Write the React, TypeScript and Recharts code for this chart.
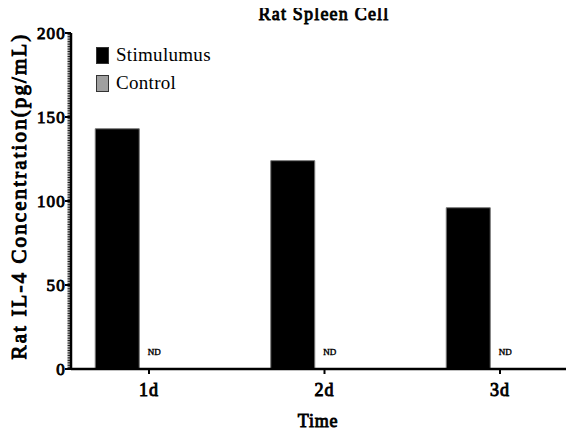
import { Bar, BarChart, LabelList, Legend, XAxis, YAxis } from "recharts";

const categories = ["1d", "2d", "3d"];
const seriesNames = ["Stimulumus", "Control"];
const stimulusValues = [143, 124, 96];
const controlValues = [0, 0, 0];
const controlNotes = ["ND", "ND", "ND"];
const yMajorTicks = [0, 50, 100, 150, 200];
const yMax = 200;

const data = categories.map((time, i) => ({
  time,
  stimulus: stimulusValues[i],
  control: controlValues[i],
  note: controlNotes[i],
}));

// minor ticks every unit, labels only on the major ones
const yTicks = Array.from({ length: yMax + 1 }, (_, i) => i);

const serif = "Liberation Serif";
// bold face isn't installed, so thicken the regular one with a stroke
const boldText = { fontFamily: serif, fill: "#000", stroke: "#000", strokeWidth: 0.9 };

function YTick(props: any) {
  const { x, y, payload } = props;
  const v = payload.value;
  if (!yMajorTicks.includes(v)) {
    return <line x1={x - 3.5} x2={x - 1} y1={y} y2={y} stroke="#000" strokeWidth={0.9} />;
  }
  return (
    <g>
      <line x1={x - 6} x2={x} y1={y} y2={y} stroke="#000" strokeWidth={2} />
      <text x={x - 5} y={y} dy={6} textAnchor="end" fontSize={17} letterSpacing={1.2} {...boldText}>
        {v}
      </text>
    </g>
  );
}

function XTick(props: any) {
  const { x, y, payload } = props;
  return (
    <g>
      <line x1={x} x2={x} y1={y} y2={y + 5} stroke="#000" strokeWidth={2} />
      <text x={x} y={y + 26.5} textAnchor="middle" fontSize={18} letterSpacing={1} {...boldText}>
        {payload.value}
      </text>
    </g>
  );
}

// ND sits on the baseline next to the stimulus bar of each group
function NoteLabel(props: any) {
  const { x, y, width, height, value } = props;
  return (
    <text
      x={x + width + 15}
      y={y + height - 14}
      textAnchor="middle"
      fontSize={9}
      fontFamily={serif}
      fill="#000"
      stroke="#000"
      strokeWidth={0.4}
    >
      {value}
    </text>
  );
}

function LegendContent(props: any) {
  const items = [...(props.payload || [])].sort(
    (a: any, b: any) => seriesNames.indexOf(a.value) - seriesNames.indexOf(b.value)
  );
  return (
    <div>
      {items.map((e: any) => (
        <div key={e.value} style={{ display: "flex", alignItems: "center", height: 28 }}>
          <span
            style={{
              display: "inline-block",
              width: 13,
              height: 17,
              background: e.color,
              border: "1px solid #333",
              boxSizing: "border-box",
              marginRight: 7,
            }}
          />
          <span style={{ fontFamily: serif, fontSize: 19, color: "#000", letterSpacing: 0.3 }}>{e.value}</span>
        </div>
      ))}
    </div>
  );
}

export default function App() {
  return (
    <div style={{ position: "relative", width: 566, height: 423, fontFamily: serif }}>
      <BarChart
        width={566}
        height={423}
        data={data}
        margin={{ top: 25, right: 1, bottom: 0, left: 0 }}
        barGap={20}
      >
        <XAxis
          dataKey="time"
          height={62}
          padding={{ left: -9.75, right: -14.75 }}
          axisLine={{ stroke: "#000", strokeWidth: 2.5 }}
          tickLine={false}
          tickSize={0}
          tickMargin={0}
          tick={<XTick />}
          interval={0}
          label={(p: any) => {
            const vb = p.viewBox;
            return (
              <text
                x={vb.x + vb.width / 2 - 4}
                y={419}
                textAnchor="middle"
                fontSize={18}
                letterSpacing={0.8}
                {...boldText}
              >
                Time
              </text>
            );
          }}
        />
        <YAxis
          width={63}
          domain={[0, yMax]}
          ticks={yTicks}
          interval={0}
          axisLine={{ stroke: "#000", strokeWidth: 2.5 }}
          tickLine={false}
          tickSize={0}
          tickMargin={0}
          tick={<YTick />}
          label={(p: any) => {
            const vb = p.viewBox;
            const cx = vb.x + 11;
            const cy = vb.y + vb.height / 2 - 5;
            return (
              <text
                x={cx}
                y={cy}
                transform={`rotate(-90, ${cx}, ${cy})`}
                textAnchor="middle"
                dominantBaseline="central"
                fontSize={21}
                letterSpacing={2.1}
                {...boldText}
                strokeWidth={1}
              >
                Rat IL-4 Concentration(pg/mL)
              </text>
            );
          }}
        />
        <Legend
          layout="vertical"
          align="center"
          verticalAlign="middle"
          content={LegendContent}
          wrapperStyle={{ position: "absolute", left: 88, top: 33, width: "auto", height: "auto" }}
        />
        <Bar
          dataKey="stimulus"
          name={seriesNames[0]}
          fill="#000"
          stroke="#777"
          strokeWidth={1}
          barSize={44}
          isAnimationActive={false}
        >
          <LabelList dataKey="note" content={NoteLabel} />
        </Bar>
        <Bar
          dataKey="control"
          name={seriesNames[1]}
          fill="#a0a0a0"
          stroke="#444"
          strokeWidth={1}
          barSize={44}
          isAnimationActive={false}
        />
      </BarChart>
      <div
        style={{
          position: "absolute",
          left: 166,
          top: -3,
          width: 300,
          textAlign: "center",
          fontFamily: serif,
          fontSize: 18,
          lineHeight: "18px",
          letterSpacing: 1.2,
          color: "#000",
          WebkitTextStroke: "0.9px #000",
        }}
      >
        Rat Spleen Cell
      </div>
    </div>
  );
}
